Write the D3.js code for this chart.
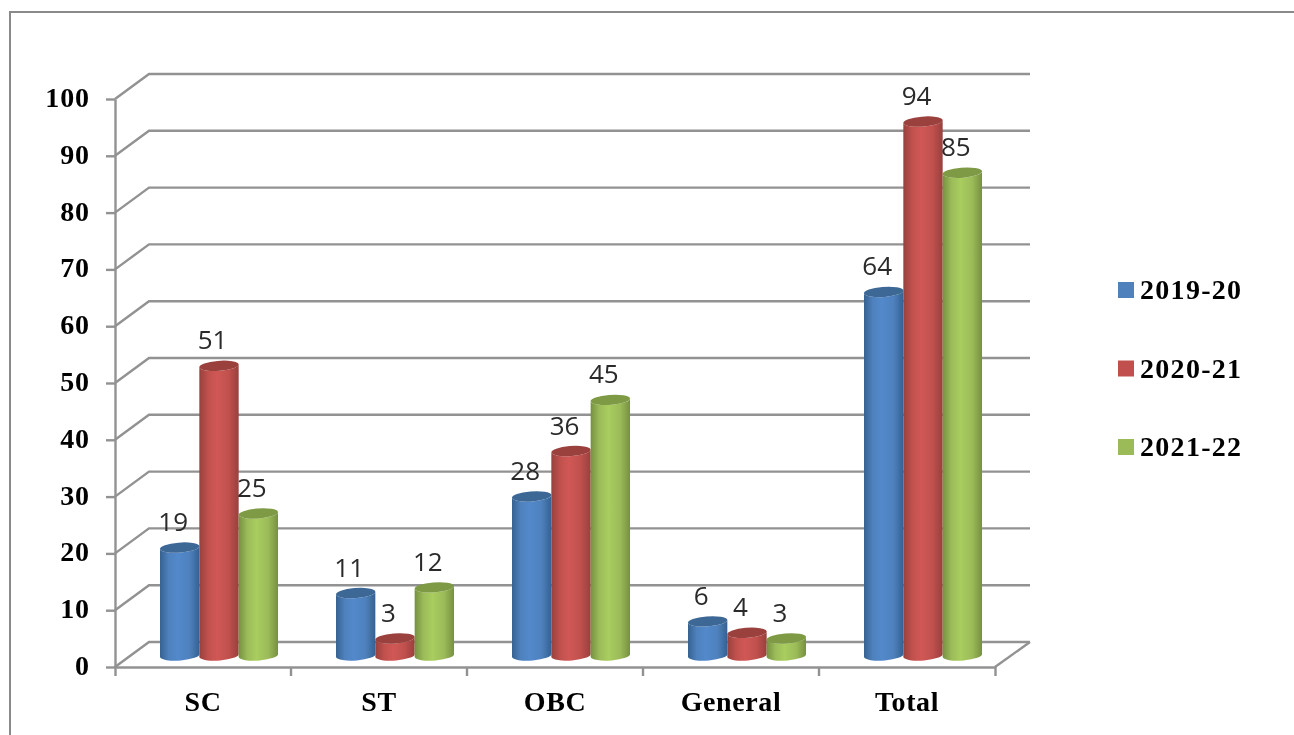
<!DOCTYPE html>
<html>
<head>
<meta charset="utf-8">
<script src="https://cdn.jsdelivr.net/npm/d3@7"></script>
<style>
  html, body { margin: 0; padding: 0; background: #fff; overflow: hidden; }
  .serif { font-family: "Liberation Serif", serif; font-weight: bold; fill: #000; }
  .val { font-family: "Open Sans", sans-serif; font-size: 26px; fill: #2b2b2b; }
</style>
</head>
<body>
<div id="chart"></div>
<script>
// data
const categories = ["SC", "ST", "OBC", "General", "Total"];
const seriesNames = ["2019-20", "2020-21", "2021-22"];
const values2019 = [19, 11, 28, 6, 64];
const values2020 = [51, 3, 36, 4, 94];
const values2021 = [25, 12, 45, 3, 85];
const yTicks = [0, 10, 20, 30, 40, 50, 60, 70, 80, 90, 100];

const allValues = [values2019, values2020, values2021];
const seriesColors = [
  {edge: "#35618f", mid: "#5289cb", top: "#3c6796", flat: "#4f81bd"},
  {edge: "#97403d", mid: "#d05855", top: "#9a403d", flat: "#c0504d"},
  {edge: "#76913f", mid: "#a9cd5e", top: "#7e9a45", flat: "#9bbb59"}
];

const width = 1294, height = 735;
const gridColor = "#929292";

const svg = d3.select("#chart")
  .append("svg")
    .attr("width", width)
    .attr("height", height);

const defs = svg.append("defs");
// the reference is a slightly soft screenshot
defs.append("filter").attr("id", "soft")
  .append("feGaussianBlur").attr("stdDeviation", 0.45);

seriesColors.forEach(function(c, i) {
  const grad = defs.append("linearGradient").attr("id", "cyl" + i);
  grad.append("stop").attr("offset", "0%").attr("stop-color", c.edge);
  grad.append("stop").attr("offset", "22%").attr("stop-color", c.flat);
  grad.append("stop").attr("offset", "45%").attr("stop-color", c.mid);
  grad.append("stop").attr("offset", "75%").attr("stop-color", c.flat);
  grad.append("stop").attr("offset", "100%").attr("stop-color", c.edge);
});

const root = svg.append("g").attr("filter", "url(#soft)");

// outer frame, runs off the page on the right and bottom
root.append("path")
  .attr("d", "M10," + (height + 5) + "V12H" + (width + 5))
  .attr("fill", "none")
  .attr("stroke", "#8a8a8a")
  .attr("stroke-width", 2);

// scales: front plane of the axes, back wall, and the cylinders' baseline
const x = d3.scaleBand().domain(categories).range([115, 995]);
const y = d3.scaleLinear().domain([0, 100]).range([667, 99]);
const yBack = d3.scaleLinear().domain([0, 100]).range([642, 74]);
const yBar = d3.scaleLinear().domain([0, 100]).range([655.5, 87.5]);
const xInner = d3.scaleBand().domain(d3.range(seriesNames.length)).range([45, 163]);
const depth = 34;

// gridlines on the back wall plus the slanted side-wall part
const grid = root.append("g")
  .attr("fill", "none")
  .attr("stroke", gridColor)
  .attr("stroke-width", 2.4);
grid.selectAll("path")
  .data(yTicks)
  .enter()
  .append("path")
    .attr("d", d => `M115,${y(d)}L${115 + depth},${yBack(d)}H1030`);
// floor edge on the right
grid.append("path")
  .attr("d", `M995,${y(0)}L1030,${yBack(0)}`);

// y axis
const yAxis = root.append("g")
  .attr("transform", "translate(115,0)")
  .call(d3.axisLeft(y).tickValues(yTicks).tickSize(9).tickPadding(16).tickSizeOuter(0));
yAxis.selectAll("path, line").attr("stroke", gridColor).attr("stroke-width", 2.4);
yAxis.selectAll("text")
  .attr("class", "serif")
  .attr("fill", null)
  .style("font-size", "28px")
  .style("letter-spacing", "0.9px")
  .attr("dy", "0.27em");

// x axis
const xAxis = root.append("g")
  .attr("transform", `translate(0,${y(0)})`)
  .call(d3.axisBottom(x).tickSize(0).tickPadding(24).tickSizeOuter(9));
xAxis.selectAll("path").attr("stroke", gridColor).attr("stroke-width", 2.4);
xAxis.selectAll("text")
  .attr("class", "serif")
  .attr("fill", null)
  .style("font-size", "28px")
  .style("letter-spacing", "0.6px")
  .attr("dy", "0.71em");
xAxis.selectAll(".sep")
  .data(categories.slice(1))
  .enter()
  .append("line")
    .attr("x1", d => x(d))
    .attr("x2", d => x(d))
    .attr("y1", 0)
    .attr("y2", 9)
    .attr("stroke", gridColor)
    .attr("stroke-width", 2.4);

// cylinders
const ry = 5, tilt = 1.6;

function sidePath(x0, w, v) {
  const yt = yBar(v), yb = yBar(0);
  return `M${x0},${yt + tilt}V${yb + tilt}` +
    `A${w / 2},${ry} -4 0 0 ${x0 + w},${yb - tilt}` +
    `V${yt - tilt}` +
    `A${w / 2},${ry} -4 0 1 ${x0},${yt + tilt}Z`;
}
function topPath(x0, w, v) {
  const yt = yBar(v);
  return `M${x0},${yt + tilt}A${w / 2},${ry} -4 0 1 ${x0 + w},${yt - tilt}` +
    `A${w / 2},${ry} -4 0 1 ${x0},${yt + tilt}Z`;
}

const barW = xInner.bandwidth();
seriesNames.forEach(function(name, s) {
  const g = root.append("g").attr("class", "series-" + s);
  const rows = categories.map((c, i) => ({cat: c, value: allValues[s][i]}));
  g.selectAll(".side")
    .data(rows)
    .enter()
    .append("path")
      .attr("class", "side")
      .attr("fill", `url(#cyl${s})`)
      .attr("d", d => sidePath(x(d.cat) + xInner(s), barW, d.value));
  g.selectAll(".top")
    .data(rows)
    .enter()
    .append("path")
      .attr("class", "top")
      .attr("fill", seriesColors[s].top)
      .attr("d", d => topPath(x(d.cat) + xInner(s), barW, d.value));
});

// value labels sit a bit left of the cylinder centre, drawn last so they stay on top
seriesNames.forEach(function(name, s) {
  const rows = categories.map((c, i) => ({cat: c, value: allValues[s][i]}));
  root.append("g").selectAll("text")
    .data(rows)
    .enter()
    .append("text")
      .attr("class", "val")
      .attr("text-anchor", "middle")
      .attr("x", d => x(d.cat) + xInner(s) + barW / 2 - 6.5)
      .attr("y", d => yBar(d.value) - 16.5)
      .text(d => d.value);
});

// legend
const legendY = d3.scalePoint().domain(seriesNames).range([290, 447]);
const legend = root.append("g").selectAll("g")
  .data(seriesNames)
  .enter()
  .append("g")
    .attr("transform", d => `translate(1118,${legendY(d)})`);
legend.append("rect")
  .attr("y", -8)
  .attr("width", 16)
  .attr("height", 16)
  .attr("fill", (d, i) => seriesColors[i].flat);
legend.append("text")
  .attr("class", "serif")
  .attr("x", 22)
  .attr("y", 9)
  .style("font-size", "28px")
  .style("letter-spacing", "1.3px")
  .text(d => d);
</script>
</body>
</html>
